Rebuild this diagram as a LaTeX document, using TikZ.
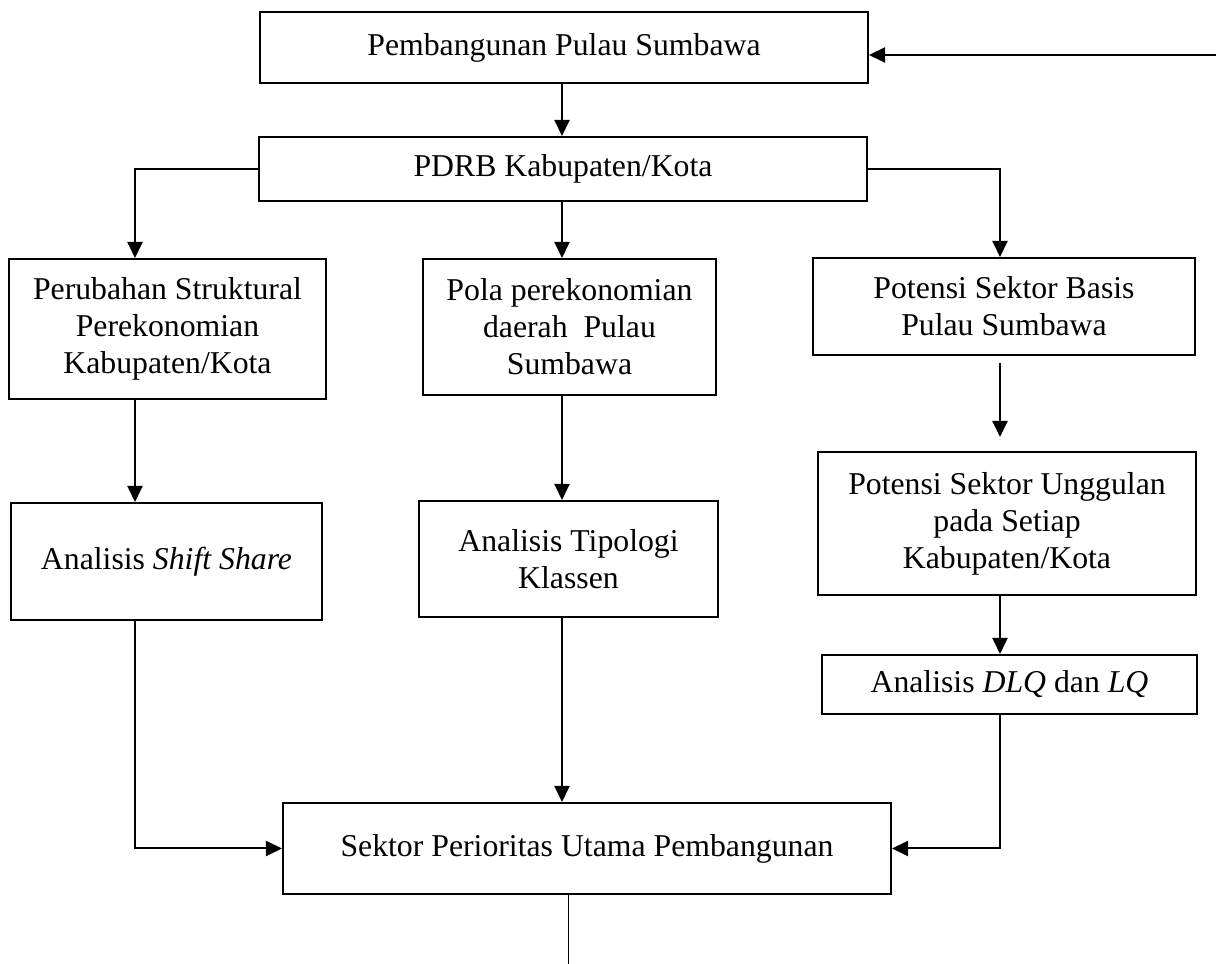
\documentclass[tikz,border=0pt]{standalone}
\usepackage{fontspec}
\setmainfont{Liberation Serif}
\usetikzlibrary{arrows.meta}
\begin{document}
\begin{tikzpicture}[x=0.4pt,y=-0.4pt,
  kotak/.style={draw=black,line width=0.8pt,inner sep=0pt,align=center,font=\fontsize{12.7}{14.8}\selectfont},
  panah/.style={line width=0.8pt,-{Triangle[length=6.4pt,width=6pt]}}]
\useasboundingbox (0,0) rectangle (1216,964);

\node (b1) at (564,47.5) [kotak,minimum width=243.2pt,minimum height=28.4pt]{Pembangunan Pulau Sumbawa};
\node (b2) at (563,169) [kotak,minimum width=243.2pt,minimum height=25.6pt]{PDRB Kabupaten/Kota};
\node (b3) at (167.5,329) [kotak,minimum width=126.8pt,minimum height=56pt]{Perubahan Struktural\\Perekonomian\\Kabupaten/Kota};
\node (b4) at (569.5,327) [kotak,minimum width=117.2pt,minimum height=54.4pt]{Pola perekonomian\\daerah\ \ Pulau\\Sumbawa};
\node (b5) at (1004,306.5) [kotak,minimum width=152.8pt,minimum height=38.8pt]{Potensi Sektor Basis\\Pulau Sumbawa};
\node (b6) at (166.5,561.5) [kotak,minimum width=124.4pt,minimum height=46.8pt]{Analisis \textit{Shift Share}};
\node (b7) at (568.5,559) [kotak,minimum width=119.6pt,minimum height=46.4pt]{Analisis Tipologi\\Klassen};
\node (b8) at (1007,523.5) [kotak,minimum width=151.2pt,minimum height=57.2pt]{Potensi Sektor Unggulan\\pada Setiap\\Kabupaten/Kota};
\node (b9) at (1009.5,684.5) [kotak,minimum width=150pt,minimum height=23.6pt]{Analisis \textit{DLQ} dan \textit{LQ}};
\node (b10) at (587,848.5) [kotak,minimum width=243.2pt,minimum height=36.4pt]{Sektor Perioritas Utama Pembangunan};

% columns and free ends
\coordinate (kiri) at (135,0);
\coordinate (tengah) at (562,0);
\coordinate (kanan) at (1000,0);
\coordinate (masuk) at (1216,55);
\coordinate (ujung) at (568,964);

\draw[panah] (masuk)--(masuk -| b1.east);
\draw[panah] (b1.south -| tengah)--(tengah |- b2.north);
\draw[panah] (b2.west)-|(kiri |- b3.north);
\draw[panah] (b2.south -| tengah)--(tengah |- b4.north);
\draw[panah] (b2.east)-|(kanan |- b5.north);
\draw[panah] (b3.south -| kiri)--(kiri |- b6.north);
\draw[panah] (b4.south -| tengah)--(tengah |- b7.north);
\draw[panah,shorten <=2.8pt,shorten >=5.6pt] (b5.south -| kanan)--(kanan |- b8.north);
\draw[panah] (b8.south -| kanan)--(kanan |- b9.north);
\draw[panah] (b6.south -| kiri)|-(b10.west);
\draw[panah] (b7.south -| tengah)--(tengah |- b10.north);
\draw[panah] (b9.south -| kanan)|-(b10.east);
\draw[line width=0.4pt] (b10.south -| ujung)--(ujung);

\end{tikzpicture}
\end{document}
